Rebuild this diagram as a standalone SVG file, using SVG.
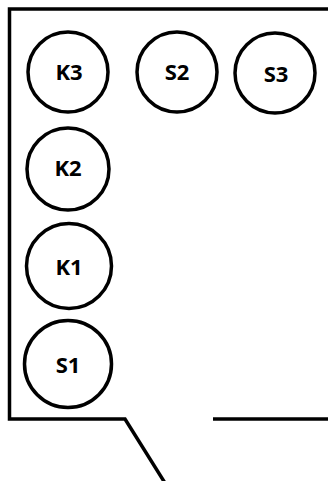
<svg xmlns="http://www.w3.org/2000/svg" width="328" height="481" viewBox="0 0 328 481">
<style>
.n circle{fill:#fff;stroke:#000;stroke-width:3.5}
.n text{font-family:"Open Sans","Liberation Sans",sans-serif;font-weight:bold;font-size:22px;fill:#000;text-anchor:middle;dominant-baseline:central}
.c{fill:none;stroke:#000;stroke-width:3.5;stroke-linejoin:miter}
</style>
<rect width="328" height="481" fill="#fff"/>
<g id="connectors">
<polyline class="c" points="328,9 9.5,9 9.5,419 125,419 165,483"/>
<line class="c" x1="213" y1="419" x2="328" y2="419"/>
</g>
<g id="K3" class="n"><circle cx="68" cy="72" r="40"/><text x="69" y="71">K3</text></g>
<g id="S2" class="n"><circle cx="177" cy="72" r="40"/><text x="177" y="71">S2</text></g>
<g id="S3" class="n"><circle cx="275" cy="73" r="40"/><text x="276" y="73">S3</text></g>
<g id="K2" class="n"><circle cx="68" cy="169" r="41"/><text x="68" y="167">K2</text></g>
<g id="K1" class="n"><circle cx="69" cy="266" r="42.5"/><text x="69" y="266">K1</text></g>
<g id="S1" class="n"><circle cx="68" cy="364" r="43.5"/><text x="68" y="364">S1</text></g>
</svg>
